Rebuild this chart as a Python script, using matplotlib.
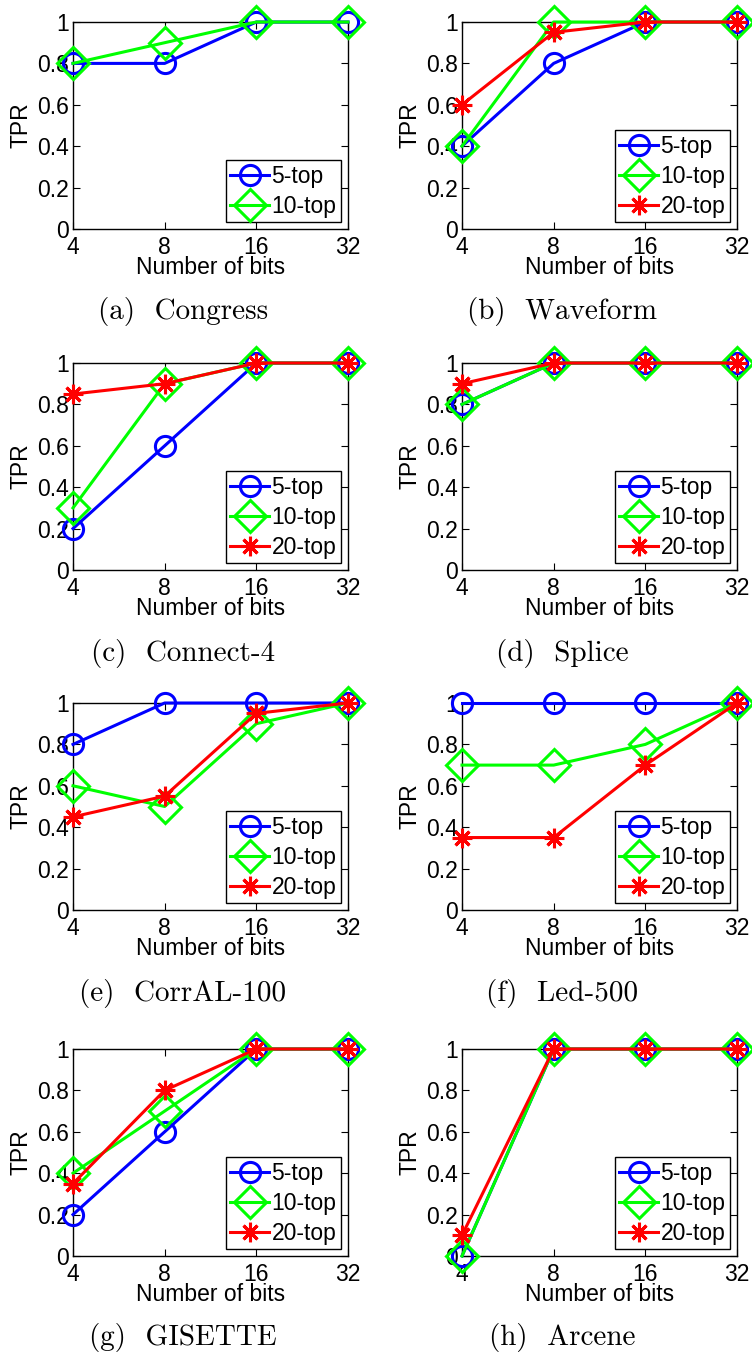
import matplotlib
matplotlib.use('Agg')
import matplotlib.pyplot as plt

plt.rcParams['font.family'] = ['Liberation Sans', 'DejaVu Sans']

bits = ['4', '8', '16', '32']
series_names = ['5-top', '10-top', '20-top']

congress = [[0.8, 0.8, 1, 1], [0.8, 0.9, 1, 1]]
waveform = [[0.4, 0.8, 1, 1], [0.4, 1, 1, 1], [0.6, 0.95, 1, 1]]
connect4 = [[0.2, 0.6, 1, 1], [0.3, 0.9, 1, 1], [0.85, 0.9, 1, 1]]
splice = [[0.8, 1, 1, 1], [0.8, 1, 1, 1], [0.9, 1, 1, 1]]
corral100 = [[0.8, 1, 1, 1], [0.6, 0.5, 0.9, 1], [0.45, 0.55, 0.95, 1]]
led500 = [[1, 1, 1, 1], [0.7, 0.7, 0.8, 1], [0.35, 0.35, 0.7, 1]]
gisette = [[0.2, 0.6, 1, 1], [0.4, 0.7, 1, 1], [0.35, 0.8, 1, 1]]
arcene = [[0, 1, 1, 1], [0, 1, 1, 1], [0.1, 1, 1, 1]]

panels = [('(a)  Congress', congress), ('(b)  Waveform', waveform),
          ('(c)  Connect-4', connect4), ('(d)  Splice', splice),
          ('(e)  CorrAL-100', corral100), ('(f)  Led-500', led500),
          ('(g)  GISETTE', gisette), ('(h)  Arcene', arcene)]

styles = [dict(color=(0, 0, 1), marker='o', markerfacecolor='none'),
          dict(color=(0, 1, 0), marker='D', markerfacecolor='none'),
          dict(color=(1, 0, 0), marker=(8, 2, 0))]
msizes = [14.5, 16, 14]

W, H = 752, 1357
fig = plt.figure(figsize=(W / 100, H / 100), dpi=100)

lefts = [73, 462]
tops = [22, 363, 703, 1049]
cap_y = [311, 654, 994, 1338]
cap_x = [183, 562]
ax_w, ax_h = 275, 207

for i, (caption, data) in enumerate(panels):
    r, c = divmod(i, 2)
    ax = fig.add_axes([lefts[c] / W, 1 - (tops[r] + ax_h) / H, ax_w / W, ax_h / H])
    x = range(len(bits))
    for k, vals in enumerate(data):
        ax.plot(x, vals, linewidth=2.2, markersize=msizes[k], markeredgewidth=2.2,
                clip_on=False, zorder=5, label=series_names[k], **styles[k])
    ax.set_xlim(0, 3)
    ax.set_ylim(0, 1)
    ax.set_xticks(list(x))
    ax.set_xticklabels(bits)
    ax.set_yticks([0, 0.2, 0.4, 0.6, 0.8, 1])
    ax.set_yticklabels(['0', '0.2', '0.4', '0.6', '0.8', '1'])
    ax.tick_params(direction='in', top=True, right=True, length=5, labelsize=16.5)
    ax.tick_params(axis='x', pad=5)
    ax.tick_params(axis='y', pad=3)
    for s in ax.spines.values():
        s.set_linewidth(1.0)
    ax.set_xlabel('Number of bits', fontsize=16.5, labelpad=-2)
    ax.set_ylabel('TPR', fontsize=16.5, labelpad=3)
    leg = ax.legend(loc='lower right', fontsize=16.5, handlelength=1.7, handletextpad=0.1,
                    labelspacing=0.3, borderpad=0.2, borderaxespad=0.3, fancybox=False,
                    edgecolor='black', framealpha=1)
    leg.get_frame().set_linewidth(1.0)
    leg.set_zorder(10)
    fig.text(cap_x[c] / W, 1 - cap_y[r] / H, caption, family='cmr10', fontsize=21,
             ha='center', va='center')

fig.savefig('out.png', dpi=100)
